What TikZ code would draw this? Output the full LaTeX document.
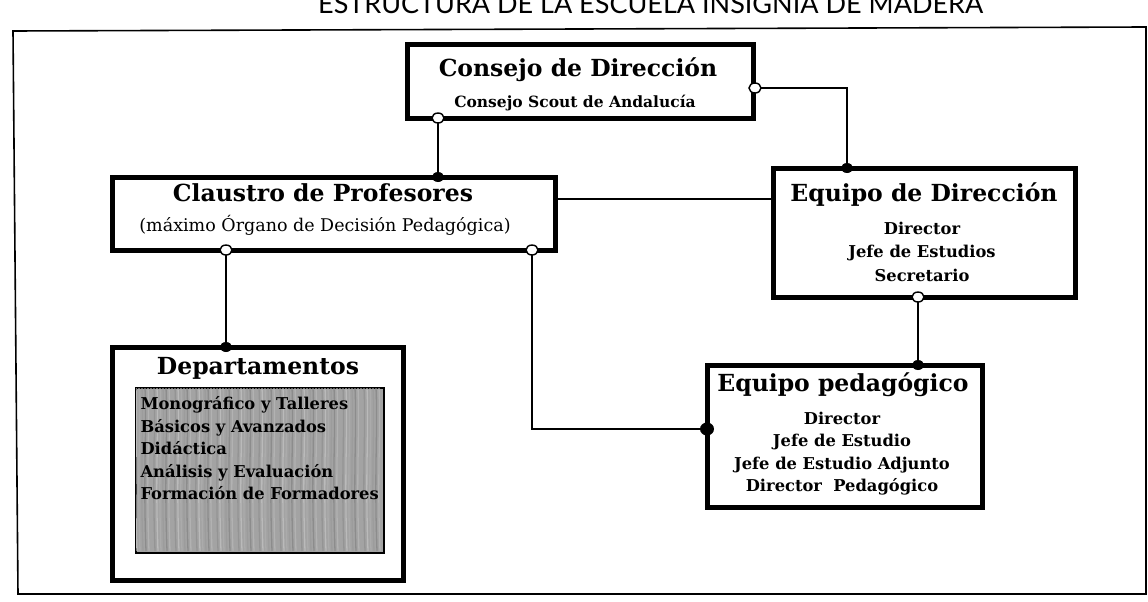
\documentclass[tikz,border=0pt]{standalone}
\usepackage{fontspec}
\usetikzlibrary{shapes.geometric}
\setmainfont{DejaVu Serif}
\newfontfamily\titlefont{Lato}
\begin{document}
\begin{tikzpicture}[x=1pt,y=-1pt,
  box/.style={draw=black,line width=5pt,fill=white,inner sep=0pt,outer sep=0pt},
  conn/.style={line width=1.7pt},
  odot/.style={ellipse,draw=black,fill=white,line width=1.4pt,minimum width=12pt,minimum height=10pt,inner sep=0pt},
  fdot/.style={ellipse,fill=black,minimum width=12pt,minimum height=10pt,inner sep=0pt},
  ttl/.style={font=\bfseries\fontsize{23.5}{28}\selectfont,anchor=base},
  sub/.style={font=\fontsize{17.5}{21}\selectfont,anchor=base},
  itm/.style={font=\bfseries\fontsize{16.3}{19}\selectfont,anchor=base}]
\useasboundingbox (0,0) rectangle (1148,602);
\clip (0,0) rectangle (1148,602);
% title (cut off at top in the reference)
\node[font=\titlefont\fontsize{27}{30}\selectfont,anchor=base west,inner sep=0pt] (title) at (318,14) {ESTRUCTURA DE LA ESCUELA INSIGNIA DE MADERA};
% frame
\draw[line width=1.6pt] (13,31) -- (1146,27) -- (1146,594) -- (18,594) -- cycle;

% boxes
\node[box,minimum width=346pt,minimum height=73pt,anchor=north west] (cd) at (407,45) {};
\node[ttl] (cdt) at (578,76) {Consejo de Dirección};
\node[sub,font=\bfseries\fontsize{15.5}{19}\selectfont] (cds) at (575,107) {Consejo Scout de Andalucía};

\node[box,minimum width=443pt,minimum height=73pt,anchor=north west] (cp) at (112,177) {};
\node[ttl] (cpt) at (323,201) {Claustro de Profesores};
\node[sub] (cps) at (325,231) {(máximo Órgano de Decisión Pedagógica)};

\node[box,minimum width=302pt,minimum height=129pt,anchor=north west] (ed) at (773,168) {};
\node[ttl] (edt) at (924,201) {Equipo de Dirección};
\node[itm] (ed1) at (922,234) {Director};
\node[itm] (ed2) at (922,257) {Jefe de Estudios};
\node[itm] (ed3) at (922,281) {Secretario};

\node[box,minimum width=291pt,minimum height=233pt,anchor=north west] (dp) at (112,347) {};
\node[ttl] (dpt) at (258,374) {Departamentos};
\node[draw=black,line width=1.5pt,fill=black!36,minimum width=248pt,minimum height=165pt,anchor=north west,inner sep=0pt] (dg) at (135,387) {};
\begin{scope}
\clip (136,388) rectangle (382,551);
\foreach \i in {0,...,81} {
  \pgfmathsetmacro{\xx}{136+3*\i}
  \pgfmathsetmacro{\sh}{mod(\i*37,7)*3+27}
  \draw[line width=1.3pt,color=black!\sh] (\xx,388) .. controls (\xx+2,430) and (\xx-2,470) .. (\xx+1,551);
}
\end{scope}
\node[itm,anchor=base west] (d1t) at (137,409) {Monográfico y Talleres};
\node[itm,anchor=base west] (d2t) at (137,432) {Básicos y Avanzados};
\node[itm,anchor=base west] (d3t) at (137,454) {Didáctica};
\node[itm,anchor=base west] (d4t) at (137,477) {Análisis y Evaluación};
\node[itm,anchor=base west] (d5t) at (137,499) {Formación de Formadores};

\node[box,minimum width=275pt,minimum height=142pt,anchor=north west] (ep) at (707,365) {};
\node[ttl] (ept) at (843,391) {Equipo pedagógico};
\node[itm] (ep1) at (842,424) {Director};
\node[itm] (ep2) at (842,446) {Jefe de Estudio};
\node[itm] (ep3) at (842,469) {Jefe de Estudio Adjunto};
\node[itm] (ep4) at (842,491) {Director\ \ Pedagógico};

% connector points
\coordinate (a1) at (438,118);
\coordinate (a2) at (438,177);
\coordinate (b1) at (755,88);
\coordinate (b2) at (847,168);
\coordinate (c1) at (555,199);
\coordinate (c2) at (773,199);
\coordinate (d1) at (226,250);
\coordinate (d2) at (226,347);
\coordinate (e1) at (532,250);
\coordinate (e2) at (707,429);
\coordinate (f1) at (918,297);
\coordinate (f2) at (918,365);

\draw[conn] (a1) -- (a2);
\draw[conn] (b1) -| (b2);
\draw[conn] (c1) -- (c2);
\draw[conn] (d1) -- (d2);
\draw[conn] (e1) |- (e2);
\draw[conn] (f1) -- (f2);

\node[odot] (o1) at (a1) {};
\node[fdot] (f1n) at (a2) {};
\node[odot] (o2) at (b1) {};
\node[fdot] (f2n) at (b2) {};
\node[odot] (o3) at (d1) {};
\node[fdot] (f3n) at (d2) {};
\node[odot] (o4) at (e1) {};
\node[fdot,minimum width=14pt,minimum height=13pt] (f4n) at (e2) {};
\node[odot] (o5) at (f1) {};
\node[fdot] (f5n) at (f2) {};
\end{tikzpicture}
\end{document}
